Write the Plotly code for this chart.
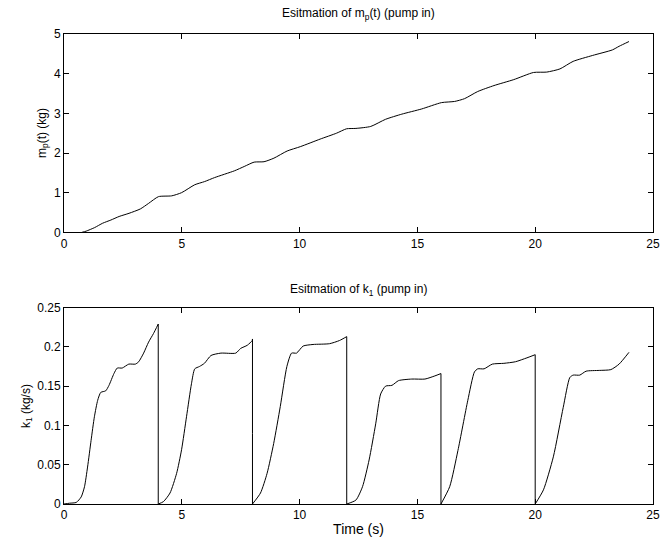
import plotly.graph_objects as go

# Top: estimation of m_p(t)
mp_t = [0.76, 0.94, 1.30, 1.64, 1.99, 2.34, 2.76, 3.24, 3.59, 4.01, 4.57, 4.99, 5.55, 5.97, 6.39,
        7.23, 7.65, 8.07, 8.49, 8.91, 9.47, 10.03, 10.87, 11.57, 11.99, 12.39, 13.02, 13.65,
        14.34, 15.18, 16.02, 16.58, 17.0, 17.56, 18.25, 19.09, 19.93, 20.49, 21.05, 21.61,
        22.44, 23.28, 23.56, 23.98]
mp_v = [0.0, 0.03, 0.12, 0.23, 0.31, 0.40, 0.48, 0.59, 0.73, 0.90, 0.92, 1.00, 1.20, 1.28, 1.38,
        1.55, 1.66, 1.77, 1.78, 1.87, 2.05, 2.16, 2.35, 2.50, 2.61, 2.62, 2.67, 2.85,
        2.98, 3.11, 3.27, 3.30, 3.37, 3.55, 3.70, 3.85, 4.03, 4.04, 4.12, 4.31,
        4.46, 4.60, 4.69, 4.81]

# Bottom: estimation of k_1
k1_t = [0.0, 0.24, 0.52, 0.73, 0.87, 1.0, 1.15, 1.29, 1.43, 1.56, 1.77, 1.91, 2.12, 2.26, 2.47,
        2.75, 3.03, 3.17, 3.38, 3.59, 3.8, 4.0,
        4.0, 4.22, 4.50, 4.78, 4.99, 5.20, 5.41, 5.55, 5.75, 5.96, 6.24, 6.66, 7.29, 7.50, 7.78,
        7.99, 8.0, 8.0,
        8.0, 8.34, 8.62, 8.9, 9.18, 9.46, 9.66, 9.87, 10.15, 10.57, 11.27, 11.69, 12.0,
        12.0, 12.39, 12.67, 12.95, 13.23, 13.44, 13.65, 13.92, 14.20, 14.76, 15.32, 15.74,
        16.0, 16.0, 16.0,
        16.0, 16.37, 16.72, 17.14, 17.42, 17.56, 17.83, 18.18, 18.67, 19.16, 19.65, 20.0,
        20.0, 20.35, 20.77, 21.19, 21.47, 21.61, 21.89, 22.16, 22.72, 23.21, 23.56, 23.98]
k1_v = [0.0, 0.001, 0.002, 0.009, 0.022, 0.047, 0.081, 0.111, 0.132, 0.142, 0.144, 0.151, 0.166,
        0.173, 0.173, 0.178, 0.178, 0.181, 0.192, 0.206, 0.217, 0.229,
        0.0, 0.003, 0.014, 0.039, 0.069, 0.111, 0.153, 0.172, 0.175, 0.179, 0.189, 0.192, 0.192,
        0.198, 0.202, 0.208, 0.21, 0.09,
        0.0, 0.014, 0.039, 0.077, 0.124, 0.175, 0.192, 0.192, 0.201, 0.203, 0.204, 0.208, 0.213,
        0.0, 0.005, 0.022, 0.056, 0.102, 0.140, 0.150, 0.151, 0.157, 0.159, 0.159, 0.163,
        0.166, 0.098, 0.098,
        0.0, 0.022, 0.068, 0.132, 0.168, 0.172, 0.172, 0.178, 0.179, 0.181, 0.186, 0.190,
        0.0, 0.018, 0.060, 0.123, 0.161, 0.164, 0.164, 0.169, 0.170, 0.171, 0.178, 0.193]

x_ticks = [0, 5, 10, 15, 20, 25]
mp_ticks = [0, 1, 2, 3, 4, 5]
k1_ticks = [0, 0.05, 0.1, 0.15, 0.2, 0.25]
k1_ticklabels = ["0", "0.05", "0.1", "0.15", "0.2", "0.25"]

FONT = "Liberation Sans, Arial, Helvetica, sans-serif"
LINE = dict(color="black", width=1)

fig = go.Figure()
fig.add_trace(go.Scatter(x=mp_t, y=mp_v, mode="lines",
                         line=dict(color="black", width=1, shape="spline", smoothing=0.6),
                         xaxis="x", yaxis="y", showlegend=False))

# split k1 into smooth rising segments and vertical reset drops
segments = [[0]]
for i in range(1, len(k1_t)):
    if k1_t[i] == k1_t[i - 1]:
        segments.append([i])
    else:
        segments[-1].append(i)
drop_x, drop_y = [], []
for s_prev, s_next in zip(segments[:-1], segments[1:]):
    drop_x += [k1_t[s_prev[-1]], k1_t[s_next[0]], None]
    drop_y += [k1_v[s_prev[-1]], k1_v[s_next[0]], None]
for seg in segments:
    if len(seg) < 2:
        continue
    fig.add_trace(go.Scatter(x=[k1_t[i] for i in seg], y=[k1_v[i] for i in seg], mode="lines",
                             line=dict(color="black", width=1, shape="spline", smoothing=0.6),
                             xaxis="x2", yaxis="y2", showlegend=False))
fig.add_trace(go.Scatter(x=drop_x, y=drop_y, mode="lines", line=LINE,
                         xaxis="x2", yaxis="y2", showlegend=False))

axis_common = dict(showline=True, linecolor="black", linewidth=1, mirror="ticks",
                   ticks="inside", ticklen=5, tickcolor="black", showgrid=False,
                   zeroline=False, tickfont=dict(size=12, color="black"))

fig.update_layout(
    width=670, height=544,
    margin=dict(l=64, r=10, t=34, b=40),
    paper_bgcolor="white", plot_bgcolor="white",
    font=dict(family=FONT, size=12, color="black"),
    xaxis=dict(domain=[0, 1], anchor="y", range=[0, 25], tickvals=x_ticks, **axis_common),
    yaxis=dict(domain=[0.578, 1], anchor="x", range=[0, 5], tickvals=mp_ticks, **axis_common),
    xaxis2=dict(domain=[0, 1], anchor="y2", range=[0, 25], tickvals=x_ticks,
                title=dict(text="Time (s)", standoff=2), **axis_common),
    yaxis2=dict(domain=[0, 0.418], anchor="x2", range=[0, 0.25], tickvals=k1_ticks,
                ticktext=k1_ticklabels, **axis_common),
    annotations=[
        dict(text="Esitmation of m<sub>p</sub>(t) (pump in)", x=0.5, y=1.043, xref="paper",
             yref="paper", showarrow=False, xanchor="center", yanchor="middle",
             font=dict(size=12)),
        dict(text="Esitmation of k<sub>1</sub> (pump in)", x=0.5, y=0.455, xref="paper",
             yref="paper", showarrow=False, xanchor="center", yanchor="middle",
             font=dict(size=12)),
        dict(text="m<sub>p</sub>(t) (kg)", x=-0.036, y=0.789, xref="paper", yref="paper",
             showarrow=False, xanchor="center", yanchor="middle", textangle=-90,
             font=dict(size=12)),
        dict(text="k<sub>1</sub> (kg/s)", x=-0.064, y=0.209, xref="paper", yref="paper",
             showarrow=False, xanchor="center", yanchor="middle", textangle=-90,
             font=dict(size=12)),
    ],
)

fig.write_html("out.html", config={"displayModeBar": False},
               post_script="document.body.style.margin='0';")
